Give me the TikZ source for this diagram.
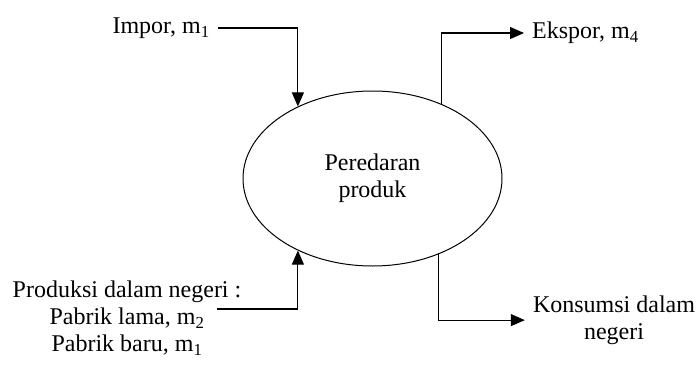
\documentclass[tikz,border=0pt]{standalone}
\usepackage{fontspec}
\setmainfont{Liberation Serif}
\newfontfamily\timesfont{Liberation Serif}
\usetikzlibrary{arrows.meta,shapes.geometric}

\begin{document}
\begin{tikzpicture}[x=1pt,y=-1pt,
        flow/.style={line width=1.1pt,-{Triangle[length=14pt,width=12pt]}},
        lbl/.style={inner xsep=8pt,inner ysep=0pt,align=center,font=\timesfont\fontsize{24}{27}\selectfont}]
        \useasboundingbox (0,0) rectangle (699,367);
        % centre of the flow
        \node[ellipse,draw,line width=1pt,minimum width=259pt,minimum height=175pt,inner sep=0pt,lbl] (pp) at (372.5,178.5) {Peredaran\\produk};
        % sources and sinks
        \node[lbl,anchor=east] (impor) at (218,28) {Impor, m\textsubscript{1}};
        \node[lbl,anchor=north] (prod) at (127,280.5) {Produksi dalam negeri :\\Pabrik lama, m\textsubscript{2}\\Pabrik baru, m\textsubscript{1}};
        \coordinate (prodout) at (217,309);
        \node[lbl,anchor=west] (ekspor) at (524,33) {Ekspor, m\textsubscript{4}};
        \node[lbl,anchor=north] (konsumsi) at (614,295.5) {Konsumsi dalam\\negeri};
        % connectors
        \draw[flow] (impor.east) -| (pp.136);
        \draw[flow] (prodout) -| (pp.224);
        \draw[flow] (pp.47) |- (ekspor.west);
        \draw[flow] (pp.-49) |- (konsumsi.west);
    \end{tikzpicture}
\end{document}
